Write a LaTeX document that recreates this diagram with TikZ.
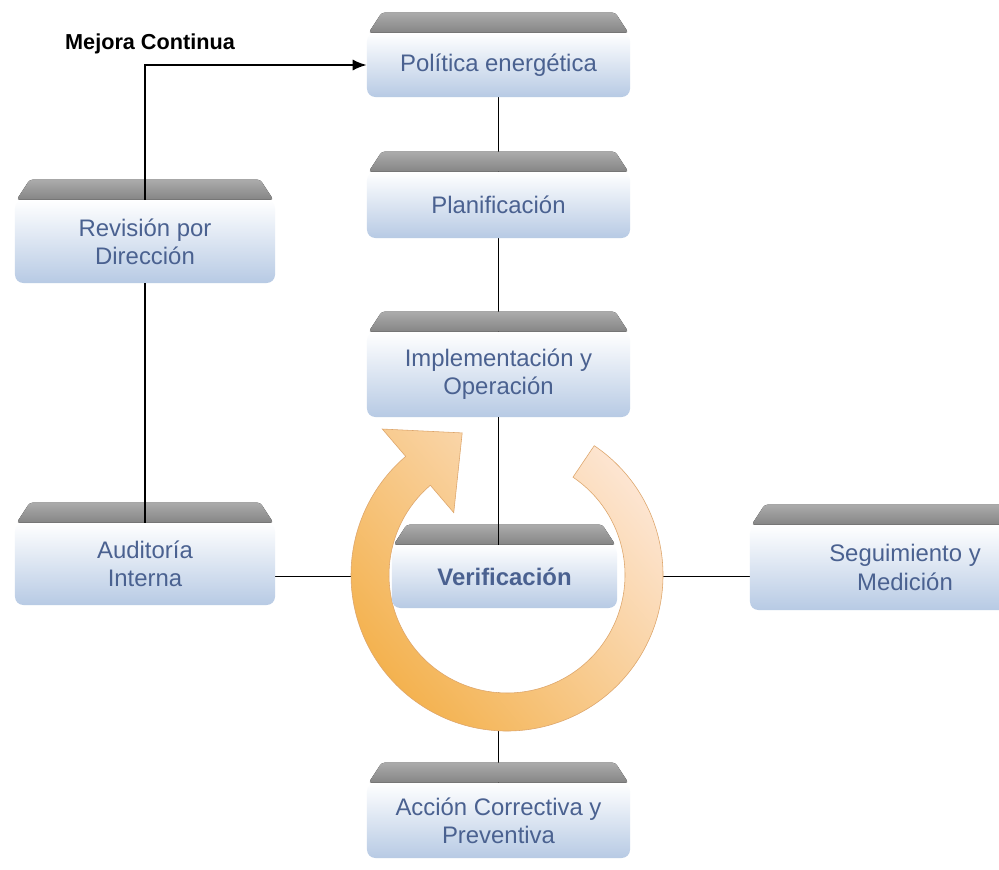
\documentclass[tikz,border=0pt]{standalone}
\usepackage{fontspec}
\setmainfont{Liberation Sans}
\usepackage{xcolor}
\usepackage{tikz}
\usetikzlibrary{arrows.meta}
\definecolor{stageblue}{HTML}{B7CAE4}
\definecolor{stagetext}{HTML}{4A6190}
\definecolor{bevellight}{HTML}{ABABAB}
\definecolor{beveldark}{HTML}{858585}
\definecolor{ringorange}{HTML}{F3B04A}
\definecolor{ringlight}{HTML}{FDE6D4}
\definecolor{ringedge}{HTML}{DDA56A}
\pgfdeclarelayer{links}
\pgfdeclarelayer{ringlayer}
\pgfsetlayers{links,ringlayer,main}

\begin{document}
\begin{tikzpicture}[x=0.025cm, y=-0.025cm, >=Latex,
  every node/.style={font=\fontsize{17}{20}\selectfont},
  stage/.style={rounded corners=6pt, top color=white, bottom color=stageblue, text=stagetext, align=center, inner sep=2pt, minimum width=6.575cm},
  bevel/.style={rounded corners=2pt, top color=bevellight, bottom color=beveldark},
  link/.style={line width=1.2pt},
  ring/.style={top color=ringlight, bottom color=ringorange, shading angle=-50, draw=ringedge, line width=0.4pt}]
  \useasboundingbox (0,0) rectangle (999,869);
  \begin{pgfonlayer}{links}
    \fill[white] (0,0) rectangle (999,869);
  \end{pgfonlayer}

  % the stages
  \node[stage, minimum height=1.6cm] (pol) at (498.5,65) {Política energética};
  \node[stage, minimum height=1.65cm] (pla) at (498.5,205) {Planificación};
  \node[stage, minimum height=2.125cm] (imp) at (498.5,374.5) {Implementación y\\Operación};
  \node[stage, minimum width=6.5cm, minimum height=2.075cm] (rev) at (145,241.5) {Revisión por\\Dirección};
  \node[stage, minimum width=6.5cm, minimum height=2.05cm] (aud) at (145,564) {Auditoría\\Interna};
  \node[stage, minimum width=5.625cm, minimum height=1.575cm, font=\fontsize{17}{20}\selectfont\bfseries] (ver) at (504.5,576.5) {Verificación};
  \node[stage, minimum width=7.75cm, minimum height=2.125cm] (seg) at (905,567.5) {Seguimiento y\\Medición};
  \node[stage, minimum height=1.875cm] (acc) at (498.5,820.5) {Acción Correctiva y\\Preventiva};

  \foreach \n in {pol,pla,imp,rev,aud,ver,seg,acc}
    \fill[bevel] ([xshift=0.05cm]\n.north west) -- ([xshift=0.375cm,yshift=0.5cm]\n.north west)
      -- ([xshift=-0.375cm,yshift=0.5cm]\n.north east) -- ([xshift=-0.05cm]\n.north east) -- cycle;

  \node[font=\fontsize{15.4}{18}\selectfont\bfseries] (mejora) at (150,44) {Mejora Continua};

  % connectors behind the ring
  \begin{pgfonlayer}{links}
    \draw[link] (pol.south) -- (pla.north);
    \draw[link] (pla.south) -- (imp.north);
    \draw[link] (acc.north |- ver.south) -- (acc.north);
    \draw[link] (aud.east |- ver.west) -- (ver.west);
    \draw[link] (ver.east) -- (ver.east -| seg.west);
  \end{pgfonlayer}

  % the cycle arrow
  \coordinate (hub) at (507,575);
  \begin{pgfonlayer}{ringlayer}
    \begin{scope}[shift={(hub)}, y=0.025cm]
      \fill[white] (0,0) circle[radius=118];
      \path[ring] (56:156) arc[start angle=56, end angle=-229.5, radius=156]
        -- (130.5:192) -- (107.5:149) -- (130.5:82) -- (130.5:118)
        arc[start angle=-229.5, end angle=56, radius=118] -- cycle;
    \end{scope}
  \end{pgfonlayer}

  \draw[link] (imp.south) -- (imp.south |- ver.north);
  \draw[link] (rev.south) -- (aud.north);
  \draw[link, -{Latex[length=10pt,width=8pt]}, line width=1.4pt] (rev.north) |- (pol.west);
\end{tikzpicture}
\end{document}
